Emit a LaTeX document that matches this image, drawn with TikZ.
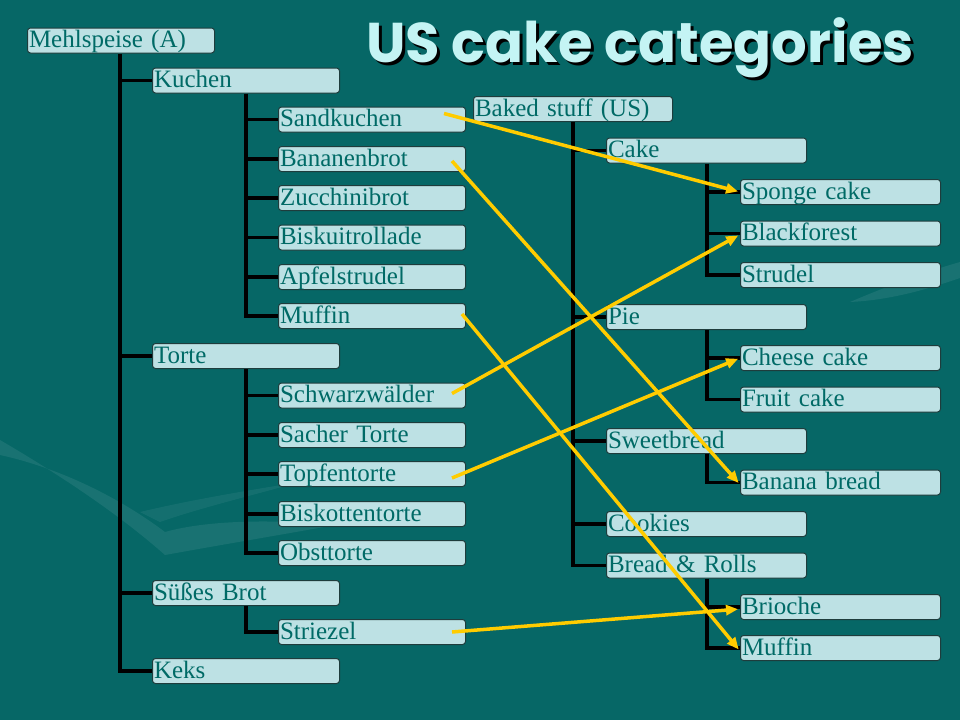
\documentclass[tikz,border=0pt]{standalone}
\usepackage{fontspec}
\setmainfont{Liberation Serif}
\newfontfamily\titlefont{Poppins}
\usetikzlibrary{arrows.meta}
\definecolor{bgteal}{HTML}{066766}
\definecolor{boxfill}{HTML}{BDE1E4}
\definecolor{boxline}{HTML}{1E3C3C}
\definecolor{boxtext}{HTML}{006A66}
\definecolor{linkyellow}{HTML}{FFCC00}
\definecolor{titlecyan}{HTML}{C4F4F4}
\newcommand\boxfont{\fontsize{25}{25}\selectfont\spaceskip=3.5pt plus 1pt\relax}
\begin{document}
\begin{tikzpicture}[x=1pt, y=-1pt, tree line/.style={line width=3.5pt,black}, link/.style={line width=3.5pt,linkyellow,-{Triangle[length=12pt,width=10pt]},shorten >=2pt},
  cat box/.style={draw=boxline, line width=1pt, fill=boxfill, rounded corners=3pt, anchor=west, inner xsep=1.5pt, inner ysep=0pt, minimum height=25pt, text height=18.5pt, text depth=4pt, align=left, text=boxtext, font=\boxfont},
  left box/.style={cat box, text width=184pt}, right box/.style={cat box, text width=197pt}]%
% background
\fill[bgteal] (0,0) rectangle (960,720);
\useasboundingbox (0,0) rectangle (960,720);
\fill[white, opacity=0.08] (0,440) .. controls (60,475) and (120,515) .. (165,555) .. controls (220,545) and (280,535) .. (335,525) .. controls (260,518) and (200,522) .. (165,532) .. controls (120,498) and (60,468) .. (0,455) -- cycle;
\fill[white, opacity=0.06] (140,512) .. controls (190,500) and (250,490) .. (300,482) .. controls (250,496) and (200,508) .. (160,522) -- cycle;
\fill[white, opacity=0.08] (850,302) .. controls (890,285) and (925,272) .. (960,262) -- (960,278) .. controls (925,290) and (890,300) .. (850,302) -- cycle;
% title
\node[text=black, font=\titlefont\bfseries\fontsize{56}{56}\selectfont] (titleshadow) at (643,51) {US cake categories};
\node[text=titlecyan, font=\titlefont\bfseries\fontsize{56}{56}\selectfont] (title) at (640,48) {US cake categories};
% Austrian tree
\begin{scope}
\node[left box] (mehl) at (27,40.5) {Mehlspeise (A)};
\node[left box] (kuchen) at (152,80.5) {Kuchen};
\node[left box] (sand) at (278,119.5) {Sandkuchen};
\node[left box] (banan) at (278,159) {Bananenbrot};
\node[left box] (zucch) at (278,198) {Zucchinibrot};
\node[left box] (biskr) at (278,237.5) {Biskuitrollade};
\node[left box] (apfel) at (278,277) {Apfelstrudel};
\node[left box] (muffa) at (278,316) {Muffin};
\node[left box] (torte) at (152,356) {Torte};
\node[left box] (schwarz) at (278,395.5) {Schwarzwälder};
\node[left box] (sacher) at (278,435) {Sacher Torte};
\node[left box] (topfen) at (278,474) {Topfentorte};
\node[left box] (biskot) at (278,514) {Biskottentorte};
\node[left box] (obst) at (278,553) {Obsttorte};
\node[left box] (suess) at (152,593) {Süßes Brot};
\node[left box] (striez) at (278,632) {Striezel};
\node[left box] (keks) at (152,671) {Keks};
\coordinate (mehlbar) at ([xshift=93pt]mehl.south west);
\coordinate (kuchbar) at ([xshift=94pt]kuchen.south west);
\coordinate (tortbar) at ([xshift=94pt]torte.south west);
\coordinate (suessbar) at ([xshift=94pt]suess.south west);
\draw[tree line] (mehlbar) |- (keks.west);
\foreach \c in {kuchen,torte,suess} \draw[tree line] (\c.west -| mehlbar) -- (\c.west);
\draw[tree line] (kuchbar) |- (muffa.west);
\foreach \c in {sand,banan,zucch,biskr,apfel} \draw[tree line] (\c.west -| kuchbar) -- (\c.west);
\draw[tree line] (tortbar) |- (obst.west);
\foreach \c in {schwarz,sacher,topfen,biskot} \draw[tree line] (\c.west -| tortbar) -- (\c.west);
\draw[tree line] (suessbar) |- (striez.west);
\end{scope}
% US tree
\begin{scope}
\node[right box, text width=196pt] (baked) at (473,109) {Baked stuff (US)};
\node[right box] (cake) at (606,150.5) {Cake};
\node[right box] (sponge) at (740,192) {Sponge cake};
\node[right box] (blackf) at (740,233.5) {Blackforest};
\node[right box] (strud) at (740,275) {Strudel};
\node[right box] (pie) at (606,317) {Pie};
\node[right box] (cheese) at (740,358) {Cheese cake};
\node[right box] (fruit) at (740,399.5) {Fruit cake};
\node[right box] (sweet) at (606,441) {Sweetbread};
\node[right box] (bananb) at (740,482.5) {Banana bread};
\node[right box] (cookie) at (606,524) {Cookies};
\node[right box] (bread) at (606,565.5) {Bread \& Rolls};
\node[right box] (brioch) at (740,607) {Brioche};
\node[right box] (muffb) at (740,648) {Muffin};
\coordinate (bakedbar) at ([xshift=100pt]baked.south west);
\coordinate (cakebar) at ([xshift=101pt]cake.south west);
\coordinate (piebar) at ([xshift=101pt]pie.south west);
\coordinate (sweetbar) at ([xshift=101pt]sweet.south west);
\coordinate (breadbar) at ([xshift=101pt]bread.south west);
\draw[tree line] (bakedbar) |- (bread.west);
\foreach \c in {cake,pie,sweet,cookie} \draw[tree line] (\c.west -| bakedbar) -- (\c.west);
\draw[tree line] (cakebar) |- (strud.west);
\foreach \c in {sponge,blackf} \draw[tree line] (\c.west -| cakebar) -- (\c.west);
\draw[tree line] (piebar) |- (fruit.west);
\draw[tree line] (cheese.west -| piebar) -- (cheese.west);
\draw[tree line] (sweetbar) |- (bananb.west);
\draw[tree line] (breadbar) |- (muffb.west);
\draw[tree line] (brioch.west -| breadbar) -- (brioch.west);
\end{scope}
% links
\draw[link] ([xshift=-22pt,yshift=6pt]sand.east) -- (sponge.west);
\draw[link] ([xshift=-14pt,yshift=-2pt]banan.east) -- ([yshift=-2pt]bananb.west);
\draw[link] ([xshift=-4pt,yshift=2pt]muffa.east) -- ([yshift=-3pt]muffb.west);
\draw[link] ([xshift=-14pt,yshift=2pt]schwarz.east) -- ([yshift=-1pt]blackf.west);
\draw[link] ([xshift=-14pt,yshift=-4pt]topfen.east) -- (cheese.west);
\draw[link] ([xshift=-14pt]striez.east) -- ([yshift=-2pt]brioch.west);
\end{tikzpicture}
\end{document}
